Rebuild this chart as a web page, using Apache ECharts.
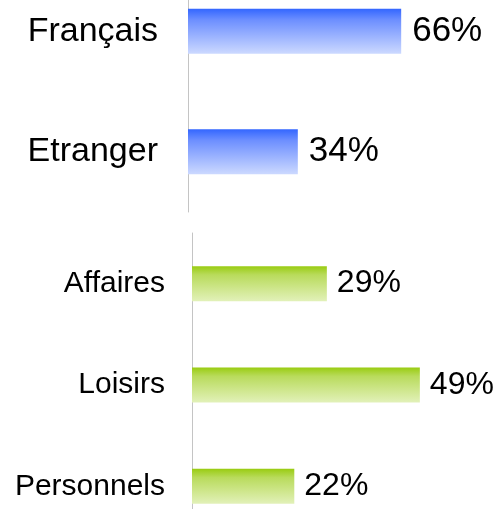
<!DOCTYPE html>
<html>
<head>
<meta charset="utf-8">
<script src="https://cdn.jsdelivr.net/npm/echarts@6/dist/echarts.min.js"></script>
<style>
  html, body { margin: 0; padding: 0; background: #fff; }
  #chart { width: 495px; height: 509px; }
</style>
</head>
<body>
<div id="chart"></div>
<script>
// origine des clients
const originCategories = ["Français", "Etranger"];
const originValues = [66, 34];

// motif du séjour
const motiveCategories = ["Affaires", "Loisirs", "Personnels"];
const motiveValues = [29, 49, 22];

const font = "Liberation Sans, Arial, sans-serif";

function vGradient(top, mid, bottom) {
    return {
        type: 'linear', x: 0, y: 0, x2: 0, y2: 1,
        colorStops: [
            { offset: 0, color: top },
            { offset: 0.25, color: mid },
            { offset: 1, color: bottom }
        ]
    };
}

let chart = echarts.init(document.getElementById('chart'), null, { renderer: 'canvas' });

const option = {
    animation: false,
    backgroundColor: '#ffffff',
    // grids run past the canvas edges on purpose (the picture is a crop)
    grid: [
        { left: 188, top: -29, width: 323, height: 241, outerBoundsMode: 'none', containLabel: false },
        { left: 192, top: 233, width: 465, height: 304, outerBoundsMode: 'none', containLabel: false }
    ],
    xAxis: [
        { type: 'value', gridIndex: 0, min: 0, max: 100, show: false },
        { type: 'value', gridIndex: 1, min: 0, max: 100, show: false }
    ],
    yAxis: [
        {
            type: 'category', gridIndex: 0, inverse: true,
            data: originCategories,
            axisLine: { lineStyle: { color: '#c4c4c4', width: 1 } },
            axisTick: { show: false },
            axisLabel: { color: '#000', fontSize: 34, fontFamily: font, margin: 30 }
        },
        {
            type: 'category', gridIndex: 1, inverse: true,
            data: motiveCategories,
            axisLine: { lineStyle: { color: '#c4c4c4', width: 1 } },
            axisTick: { show: false },
            axisLabel: { color: '#000', fontSize: 30, fontFamily: font, margin: 27 }
        }
    ],
    series: [
        {
            type: 'bar', xAxisIndex: 0, yAxisIndex: 0,
            data: originValues,
            barWidth: 45,
            itemStyle: { color: vGradient('#3366ff', '#6d8fff', '#ccd9ff') },
            label: {
                show: true, position: 'right', distance: 11,
                formatter: '{c}%', color: '#000', fontSize: 35, fontFamily: font
            }
        },
        {
            type: 'bar', xAxisIndex: 1, yAxisIndex: 1,
            data: motiveValues,
            barWidth: 35,
            itemStyle: { color: vGradient('#99cc11', '#b9db5c', '#e2f1b9') },
            label: {
                show: true, position: 'right', distance: 10,
                formatter: '{c}%', color: '#000', fontSize: 32, fontFamily: font
            }
        }
    ]
};

chart.setOption(option);
</script>
</body>
</html>
